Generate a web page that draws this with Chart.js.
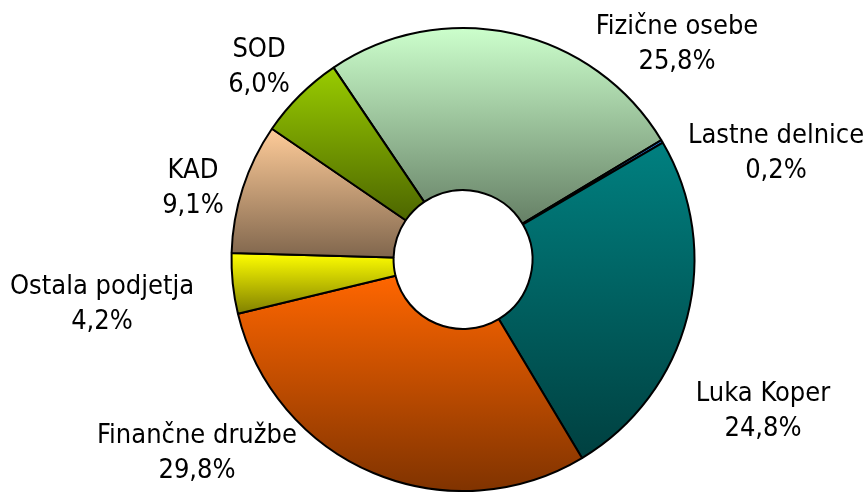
<!DOCTYPE html>
<html>
<head>
<meta charset="utf-8">
<script src="https://cdn.jsdelivr.net/npm/chart.js@4.4.1/dist/chart.umd.min.js"></script>
<style>
  html, body { margin: 0; padding: 0; background: #fff; }
  #wrap { width: 867px; height: 492px; }
</style>
</head>
<body>
<div id="wrap"><canvas id="lastniki" width="867" height="492"></canvas></div>
<script>
// struktura lastnikov - podatki
const categories = ['Fizične osebe', 'Lastne delnice', 'Luka Koper', 'Finančne družbe', 'Ostala podjetja', 'KAD', 'SOD'];
const shares = [25.8, 0.2, 24.8, 29.8, 4.2, 9.1, 6.0];
const shareLabels = ['25,8%', '0,2%', '24,8%', '29,8%', '4,2%', '9,1%', '6,0%'];

// barve: zgoraj svetla, spodaj temnejsa (gradient po rezini)
const topColors = ['#ccffcc', '#2f86f0', '#008080', '#ff6600', '#ffff00', '#ffcc99', '#99cc00'];
const bottomColors = ['#668066', '#174a90', '#004040', '#803300', '#808000', '#80664d', '#4d6600'];

// polozaj napisov glede na sredisce kolobarja (x, baseline prve vrstice)
const labelOffsets = [[214, -226], [313, -117], [300, 141], [-266, 183], [-361, 34], [-270, -82], [-204, -203]];
const FONT = "27px 'DejaVu Sans Condensed', 'Liberation Sans', sans-serif";

// y-razpon rezine, da gradient tece od vrha do dna rezine
function sliceExtent(arc) {
  const { x, y, startAngle, endAngle, innerRadius, outerRadius } = arc.getProps(['x', 'y', 'startAngle', 'endAngle', 'innerRadius', 'outerRadius']);
  const ys = [startAngle, endAngle].flatMap(a => [y + outerRadius * Math.sin(a), y + innerRadius * Math.sin(a)]);
  const inRange = (a) => {
    const tau = Math.PI * 2;
    let t = a;
    while (t < startAngle) t += tau;
    return t <= endAngle;
  };
  if (inRange(-Math.PI / 2)) ys.push(y - outerRadius);
  if (inRange(Math.PI / 2)) ys.push(y + outerRadius);
  return [Math.min(...ys), Math.max(...ys)];
}

const gradientPlugin = {
  id: 'sliceGradient',
  beforeDatasetsDraw(chart) {
    const ctx = chart.ctx;
    chart.getDatasetMeta(0).data.forEach((arc, i) => {
      const [y0, y1] = sliceExtent(arc);
      const g = ctx.createLinearGradient(0, y0, 0, y1);
      g.addColorStop(0, topColors[i]);
      g.addColorStop(1, bottomColors[i]);
      arc.options.backgroundColor = g;
    });
  }
};

const labelPlugin = {
  id: 'sliceLabels',
  afterDatasetsDraw(chart) {
    const ctx = chart.ctx;
    const meta = chart.getDatasetMeta(0);
    ctx.save();
    ctx.font = FONT;
    ctx.fillStyle = '#000';
    ctx.textAlign = 'center';
    ctx.textBaseline = 'alphabetic';
    meta.data.forEach((arc, i) => {
      const cx = arc.x + labelOffsets[i][0];
      const cy = arc.y + labelOffsets[i][1];
      ctx.fillText(categories[i], cx, cy);
      ctx.fillText(shareLabels[i], cx, cy + 35);
    });
    ctx.restore();
  }
};

new Chart(document.getElementById('lastniki'), {
  type: 'doughnut',
  data: {
    labels: categories,
    datasets: [{
      data: shares,
      backgroundColor: topColors,
      borderColor: '#000',
      borderWidth: 2
    }]
  },
  options: {
    responsive: false,
    animation: false,
    cutout: '30%',
    rotation: -34,
    layout: { padding: { top: 27, bottom: 0, left: 59, right: 0 } },
    plugins: {
      legend: { display: false },
      tooltip: { enabled: false }
    }
  },
  plugins: [gradientPlugin, labelPlugin]
});
</script>
</body>
</html>
